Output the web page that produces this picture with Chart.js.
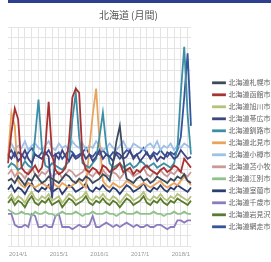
<!DOCTYPE html>
<html>
<head>
<meta charset="utf-8">
<script src="https://cdn.jsdelivr.net/npm/chart.js@4"></script>
<style>
  html, body { margin: 0; padding: 0; background: #fff; overflow: hidden; }
  #wrap { position: absolute; left: 0; top: 0; width: 271px; height: 262px; }
  #bar { position: absolute; left: 8px; top: 0; width: 263px; height: 3px; background: #2d3f8e; }
</style>
</head>
<body>
<div id="wrap"><canvas id="chart"></canvas></div>
<div id="bar"></div>
<script>
// monthly labels, 2013/10 - 2018/4
const months = [
    "2013/10","2013/11","2013/12",
    "2014/1","2014/2","2014/3","2014/4","2014/5","2014/6","2014/7","2014/8","2014/9","2014/10","2014/11","2014/12",
    "2015/1","2015/2","2015/3","2015/4","2015/5","2015/6","2015/7","2015/8","2015/9","2015/10","2015/11","2015/12",
    "2016/1","2016/2","2016/3","2016/4","2016/5","2016/6","2016/7","2016/8","2016/9","2016/10","2016/11","2016/12",
    "2017/1","2017/2","2017/3","2017/4","2017/5","2017/6","2017/7","2017/8","2017/9","2017/10","2017/11","2017/12",
    "2018/1","2018/2","2018/3","2018/4"
];

const names = [
    "北海道札幌市中央区", "北海道函館市本町", "北海道旭川市宮下", "北海道帯広市西二条",
    "北海道釧路市北大通", "北海道北見市大通", "北海道小樽市稲穂", "北海道苫小牧市表町",
    "北海道江別市大麻", "北海道室蘭市中央町", "北海道千歳市幸町", "北海道岩見沢市",
    "北海道網走市南四条"
];

const colors = [
    "#3d4a5c", "#a83232", "#b5c27a", "#3f4482", "#3b8ea5", "#e8a45c", "#9dc0e6",
    "#c99a9a", "#8fc28a", "#2c3e70", "#8c7bbf", "#5a7a2e", "#34559a"
];

const s1 = [30,31,29,32,30,28,31,30,33,31, 29,30,32,31,30,29,31,33,32,30, 29,31,30,32,31,29,30,31,33,32, 30,38,48,55,40,31,30,29,31,32, 30,31,29,30,32,31,30,29,31,30, 32,31,33,30,29];
const s2 = [38,52,63,58,36,34,33,35,37,34, 36,45,66,42,35,33,34,36,48,68, 72,70,40,35,34,36,35,33,37,36, 34,35,36,38,34,35,36,33,35,34, 36,37,35,34,33,35,36,34,35,37, 36,34,40,38,36];
const s3 = [22,24,21,23,22,20,23,25,22,21, 23,22,24,21,22,23,20,22,24,23, 21,22,23,25,22,21,23,22,24,22, 21,23,22,20,22,24,23,21,22,23, 25,22,21,23,22,24,22,21,23,22, 24,23,22,21,23];
const s4 = [42,40,43,39,41,44,40,38,42,41, 40,43,41,22,42,40,44,41,39,42, 40,41,43,40,42,39,41,44,40,42, 41,39,43,42,40,41,44,40,42,39, 41,43,40,42,39,41,40,43,42,40, 41,44,42,40,41];
const s5 = [36,38,37,35,36,39,37,36,50,67, 45,37,36,38,37,36,35,37,39,58, 70,50,38,37,36,38,40,50,61,46, 38,36,37,38,36,37,38,36,37,39, 38,36,37,38,36,37,38,37,36,38, 45,70,91,60,42];
const s6 = [40,61,55,30,28,27,29,28,27,28, 29,28,27,30,28,27,29,28,27,28, 29,30,28,27,45,60,72,48,30,28, 27,29,28,27,28,30,29,28,27,28, 29,28,27,28,29,30,28,27,28,29, 28,30,32,30,28];
const s7 = [45,47,44,46,45,48,44,46,47,45, 44,46,48,45,44,47,45,46,44,48, 46,45,47,44,46,45,48,46,44,45, 47,45,44,46,48,45,44,47,46,45, 44,46,47,45,48,44,46,45,47,44, 46,45,47,46,45];
const s8 = [33,35,32,34,33,31,34,36,33,32, 34,33,35,32,33,34,31,33,35,34, 32,33,34,36,33,32,34,33,35,33, 32,34,33,31,33,35,34,32,33,34, 36,33,32,34,33,35,33,32,34,33, 35,34,33,32,34];
const s9 = [17,16,15,15,16,15,15,14,16,15, 15,16,15,15,14,15,16,15,15,15, 16,15,14,15,15,16,15,15,15,16, 15,15,14,15,16,15,15,15,16,15, 15,15,15,16,15,15,14,15,15,16, 15,15,16,15,15];
const s10 = [26,28,25,27,26,24,27,29,26,25, 27,26,28,25,26,27,24,26,28,27, 25,26,27,29,26,25,27,26,28,26, 25,27,26,24,26,28,27,25,26,27, 29,26,25,27,26,28,26,25,27,26, 28,27,26,25,27];
const s11 = [15,15,10,9,9,10,9,15,14,9, 9,10,9,9,14,15,9,9,9,8, 9,10,9,9,10,14,9,9,10,11, 10,9,10,9,10,11,10,9,10,9, 9,10,9,9,10,10,9,8,9,9, 12,12,11,12,12];
const s12 = [20,22,19,21,20,18,21,23,20,19, 21,20,22,19,20,21,18,20,22,21, 19,20,21,23,20,19,21,20,22,20, 19,21,20,18,20,22,21,19,20,21, 23,20,19,21,20,22,20,19,21,20, 22,21,20,19,21];
const s13 = [42,44,41,43,42,40,43,45,42,41, 43,42,44,41,42,43,40,42,44,43, 41,42,43,45,42,41,43,42,44,42, 41,43,42,40,42,44,43,41,42,43, 45,42,41,43,42,44,42,41,43,42, 44,50,68,88,55];

const series = [s1, s2, s3, s4, s5, s6, s7, s8, s9, s10, s11, s12, s13];

const ctx = document.getElementById("chart").getContext("2d");

const chart = new Chart(ctx, {
    type: "line",
    data: {
        labels: months,
        datasets: series.map((vals, i) => ({
            label: names[i],
            data: vals,
            borderColor: colors[i],
            backgroundColor: colors[i],
            borderWidth: 1.8,
            pointRadius: 0,
            tension: 0,
        })),
    },
    options: {
        responsive: true,
        maintainAspectRatio: false,
        animation: false,
        layout: { padding: { left: 8, right: 0, top: 4, bottom: 0 } },
        plugins: {
            title: {
                display: true,
                text: "北海道 (月間)\u3000\u3000\u00a0",
                color: "#555",
                font: { family: "Noto Sans CJK JP", size: 10, weight: "normal" },
                padding: { top: 5, bottom: 6 },
            },
            legend: {
                position: "right",
                maxWidth: 63,
                title: { display: true, text: "", font: { size: 8 }, padding: { top: 0, bottom: 34 } },
                labels: {
                    boxWidth: 12,
                    boxHeight: 1,
                    padding: 5,
                    color: "#666",
                    font: { family: "Noto Sans CJK JP", size: 7 },
                },
            },
            tooltip: { enabled: false },
        },
        scales: {
            x: {
                border: { display: false },
                grid: {
                    drawTicks: false,
                    color: (c) => (c.index % 2 === 1 ? "#e4e4e4" : "transparent"),
                },
                ticks: {
                    autoSkip: false,
                    maxRotation: 0,
                    padding: 4,
                    color: "#999",
                    font: { size: 6 },
                    callback: (v, i) => (i % 12 === 3 ? months[i] : ""),
                },
            },
            y: {
                min: 0,
                max: 100,
                border: { display: false },
                grid: { drawTicks: false, color: "#e4e4e4" },
                ticks: { stepSize: 5, display: false },
            },
            // empty right-hand axis, only keeps a gap before the legend
            gap: {
                position: "right",
                border: { display: false },
                grid: { display: false },
                ticks: { display: false },
                afterFit: (s) => { s.width = 17; },
            },
        },
    },
});
</script>
</body>
</html>
